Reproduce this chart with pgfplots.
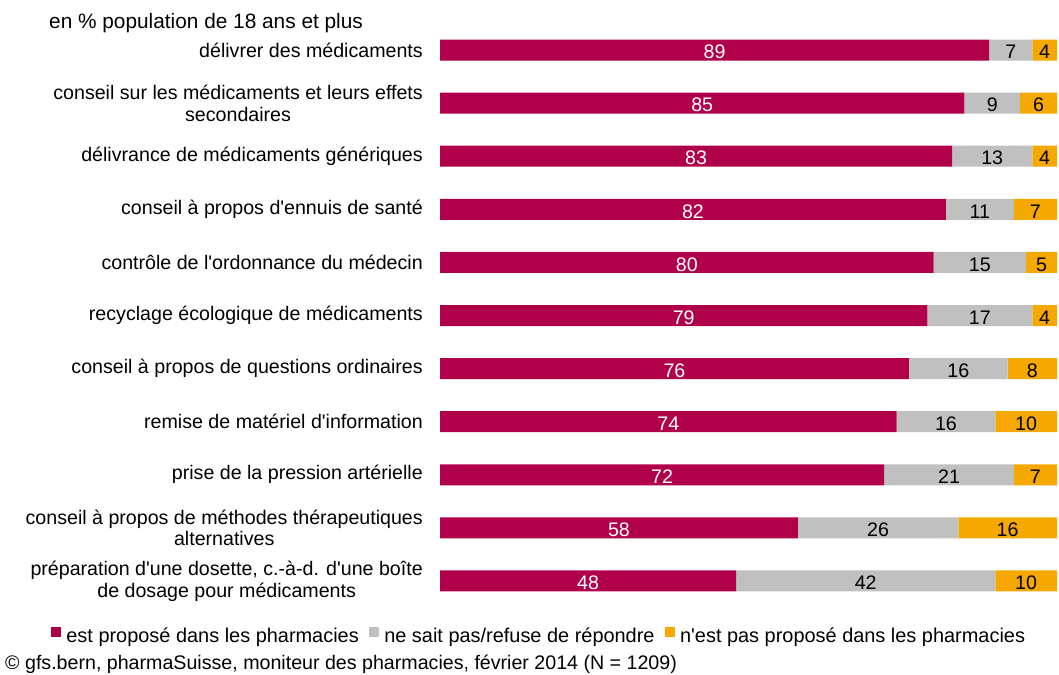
\documentclass[border=0pt]{standalone}
\usepackage{pgfplots}
\pgfplotsset{compat=1.18}
\usepackage{fontspec}
\setmainfont{Liberation Sans}[Ligatures=TeXOff]
\definecolor{cRed}{HTML}{B0004A}
\definecolor{cGrey}{HTML}{C0C0C0}
\definecolor{cOrange}{HTML}{F5A800}
\newcommand{\fs}{\fontsize{19.7}{22}\selectfont}
\begin{document}
\begin{tikzpicture}
\useasboundingbox (0,0) rectangle (1059bp,675bp);
\begin{axis}[
  at={(440bp,67.5bp)}, anchor=south west,
  scale only axis, width=617bp, height=584bp,
  xbar stacked, bar width=21bp,
  xmin=0, xmax=100, ymin=-0.5, ymax=10.5, y dir=reverse,
  axis line style={draw=none}, xtick=\empty,
  ytick={0,...,10}, major tick length=0pt,
  /pgf/number format/assume math mode=true,
  yticklabels={
    {délivrer des médicaments},
    {conseil sur les médicaments et leurs effets\\secondaires},
    {délivrance de médicaments génériques},
    {conseil à propos d'ennuis de santé},
    {contrôle de l'ordonnance du médecin},
    {recyclage écologique de médicaments},
    {conseil à propos de questions ordinaires},
    {remise de matériel d'information},
    {prise de la pression artérielle},
    {conseil à propos de méthodes thérapeutiques\\alternatives},
    {préparation d'une dosette, c.-à-d. d'une boîte\\de dosage pour médicaments}},
  yticklabel style={align=center, inner sep=0pt, xshift=-17bp, font=\fs},
  point meta=rawx,
  nodes near coords,
  every node near coord/.append style={anchor=center, inner sep=0pt, yshift=-2bp, font=\fs},
  legend columns=3,
  legend style={at={(0.1588,-0.0484)}, anchor=center, draw=none, fill=none,
    font=\fontsize{20}{22}\selectfont, inner sep=0pt, nodes={inner sep=0pt},
    /tikz/every even column/.append style={column sep=10bp},
    /tikz/every odd column/.append style={column sep=5.5bp}},
  legend image code/.code={\fill[#1,draw=none] (0bp,-1bp) rectangle (10bp,9bp);},
]
\addplot[fill=cRed, draw=none, nodes near coords style={text=white}]
  coordinates {(89,0) (85,1) (83,2) (82,3) (80,4) (79,5) (76,6) (74,7) (72,8) (58,9) (48,10)};
\addlegendentry{est proposé dans les pharmacies}
\addplot[fill=cGrey, draw=none, nodes near coords style={text=black}]
  coordinates {(7,0) (9,1) (13,2) (11,3) (15,4) (17,5) (16,6) (16,7) (21,8) (26,9) (42,10)};
\addlegendentry{ne sait pas/refuse de répondre}
\addplot[fill=cOrange, draw=none, nodes near coords style={text=black}]
  coordinates {(4,0) (6,1) (4,2) (7,3) (5,4) (4,5) (8,6) (10,7) (7,8) (16,9) (10,10)};
\addlegendentry{n'est pas proposé dans les pharmacies}
\end{axis}
\node[anchor=base west, inner sep=0pt, font=\fontsize{20.9}{23}\selectfont] at (49bp,646bp) {en \% population de 18 ans et plus};
\node[anchor=base west, inner sep=0pt, font=\fs] at (5bp,6bp) {© gfs.bern, pharmaSuisse, moniteur des pharmacies, février 2014 (N = 1209)};
\end{tikzpicture}
\end{document}
